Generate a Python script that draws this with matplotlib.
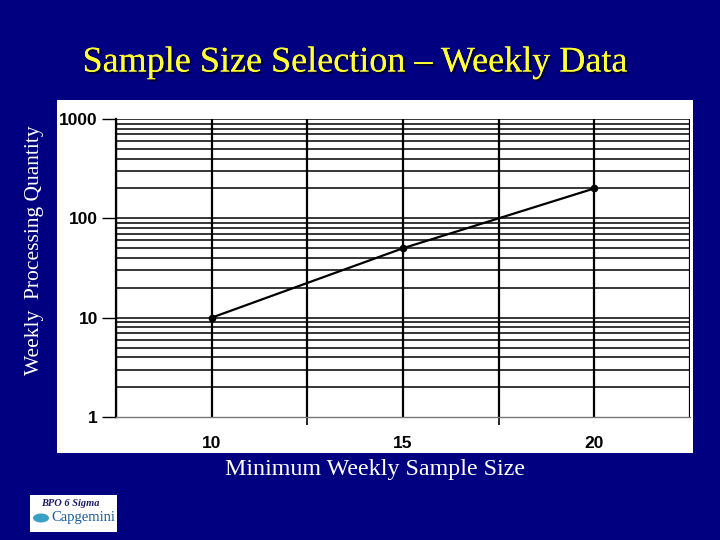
import matplotlib
matplotlib.use("Agg")
import matplotlib.pyplot as plt
import matplotlib.patheffects as pe
from matplotlib.patches import Rectangle, Ellipse
from matplotlib.ticker import FixedLocator, NullFormatter

# data
sample_size = [10, 15, 20]
weekly_qty = [10, 50, 200]
x_ticks = [10, 15, 20]
x_grid = [7.5, 10, 12.5, 15, 17.5, 20, 22.5]
y_ticks = [1, 10, 100, 1000]

navy = "#000080"

fig = plt.figure(figsize=(7.2, 5.4), dpi=100)
fig.patch.set_facecolor(navy)

# white chart panel behind the axes
panel = fig.add_axes([57 / 720, 1 - 453 / 540, 636 / 720, 353 / 540])
panel.set_facecolor("white")
panel.set_xticks([])
panel.set_yticks([])
for s in panel.spines.values():
    s.set_visible(False)
panel.set_zorder(0)

ax = fig.add_axes([116 / 720, 1 - 417 / 540, 574 / 720, 298 / 540])
ax.set_zorder(1)
ax.set_facecolor("white")
ax.set_yscale("log")
ax.set_ylim(1, 1000)
ax.set_xlim(7.5, 22.5)

# log-paper style grid
minor_y = [m * 10 ** d for d in range(3) for m in range(2, 10)]
for v in minor_y + y_ticks[1:]:
    ax.axhline(v, color="black", lw=1.1, zorder=1)
for v in x_grid:
    ax.axvline(v, color="black", lw=1.6, zorder=1)

ax.plot(sample_size, weekly_qty, color="black", lw=1.6, marker="o",
        markersize=4.5, zorder=3)

ax.xaxis.set_major_locator(FixedLocator(x_ticks))
ax.xaxis.set_minor_locator(FixedLocator([12.5, 17.5]))
ax.yaxis.set_major_locator(FixedLocator(y_ticks))
ax.yaxis.set_minor_locator(FixedLocator([]))
ax.yaxis.set_minor_formatter(NullFormatter())
ax.set_yticklabels(["1", "10", "100", "1000"])
ax.set_xticklabels(["10", "15", "20"])
ax.tick_params(axis="y", direction="out", length=10, width=1, pad=3,
               labelsize=12.5, colors="black")
ax.tick_params(axis="x", which="major", length=0, pad=14, labelsize=12.5)
ax.tick_params(axis="x", which="minor", direction="out", length=6, width=1.2)
for lab in ax.get_xticklabels() + ax.get_yticklabels():
    lab.set_fontweight("bold")
    lab.set_fontfamily("Liberation Sans")

for side in ["top", "right"]:
    ax.spines[side].set_visible(False)
ax.spines["left"].set_linewidth(1.6)
ax.spines["bottom"].set_color("#777777")
ax.spines["bottom"].set_linewidth(1)

# title and axis labels on the navy background
fig.text(0.493, 1 - 63 / 540, "Sample Size Selection \u2013 Weekly Data",
         ha="center", va="center", color="#ffff33", fontsize=26,
         family="Liberation Serif",
         path_effects=[pe.withSimplePatchShadow(offset=(1.5, -1.5),
                                                shadow_rgbFace="black", alpha=0.7),
                       pe.Normal()])
fig.text(375 / 720, 1 - 469 / 540, "Minimum Weekly Sample Size",
         ha="center", va="center", color="white", fontsize=17.3,
         family="Liberation Serif")
fig.text(35 / 720, 1 - 250 / 540, "Weekly  Processing Quantity",
         ha="center", va="center", rotation=90, color="white", fontsize=15.5,
         family="Liberation Serif")

# small logo box, bottom left
fig.patches.append(Rectangle((30 / 720, 1 - 532 / 540), 87 / 720, 37 / 540,
                             transform=fig.transFigure, facecolor="white",
                             edgecolor="none"))
fig.text(70 / 720, 1 - 503 / 540, "BPO 6 Sigma", ha="center", va="center",
         fontsize=7.5, style="italic", weight="bold", color="#1a1a6e",
         family="Liberation Serif")
fig.text(83 / 720, 1 - 518 / 540, "Capgemini", ha="center", va="center",
         fontsize=10.5, color="#1a5a9a", family="Liberation Serif")
fig.patches.append(Ellipse((41 / 720, 1 - 518 / 540), 16 / 720, 9 / 540,
                           transform=fig.transFigure, facecolor="#3aa0c8",
                           edgecolor="none"))

fig.savefig("out.png", dpi=100, facecolor=navy)
